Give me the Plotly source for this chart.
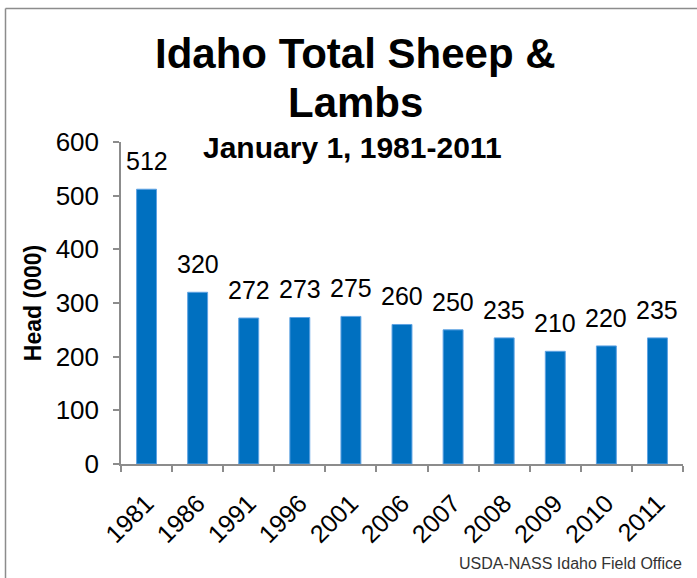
import plotly.graph_objects as go

years = ["1981", "1986", "1991", "1996", "2001", "2006", "2007", "2008", "2009", "2010", "2011"]
head = [512, 320, 272, 273, 275, 260, 250, 235, 210, 220, 235]
y_ticks = [0, 100, 200, 300, 400, 500, 600]

W, H = 697, 578
ML, MR, MT, MB = 121, 14, 142, 114
PW, PH = W - ML - MR, H - MT - MB

def px_x(x):
    return (x - ML) / PW

def px_y(y):
    return (H - MB - y) / PH

FONT = "Liberation Sans, Arial, sans-serif"

fig = go.Figure()
fig.add_trace(go.Bar(
    x=years, y=head,
    marker=dict(color="#0070C0", line=dict(color="#5FA3E3", width=1)),
    width=0.39,
    hoverinfo="x+y",
))

annotations = []
for i, v in enumerate(head):
    annotations.append(dict(
        x=i, y=v, xref="x", yref="y", text=str(v), showarrow=False,
        yanchor="bottom", yshift=12, font=dict(family=FONT, size=25, color="#000000"),
    ))

annotations += [
    dict(x=px_x(355), y=px_y(54), xref="paper", yref="paper", text="<b>Idaho Total Sheep &</b>",
         showarrow=False, xanchor="center", yanchor="middle",
         font=dict(family=FONT, size=42, color="#000000")),
    dict(x=px_x(355), y=px_y(103), xref="paper", yref="paper", text="<b>Lambs</b>",
         showarrow=False, xanchor="center", yanchor="middle",
         font=dict(family=FONT, size=42, color="#000000")),
    dict(x=px_x(352), y=px_y(147), xref="paper", yref="paper", text="<b>January 1, 1981-2011</b>",
         showarrow=False, xanchor="center", yanchor="middle",
         font=dict(family=FONT, size=30, color="#000000")),
    dict(x=px_x(684), y=px_y(563), xref="paper", yref="paper", text="USDA-NASS Idaho Field Office",
         showarrow=False, xanchor="right", yanchor="middle",
         font=dict(family=FONT, size=16, color="#333333")),
]

shapes = [
    dict(type="line", xref="paper", yref="paper", x0=px_x(5.5), x1=px_x(5.5), y0=px_y(8.5), y1=px_y(600),
         line=dict(color="#8C8C8C", width=1.5)),
    dict(type="line", xref="paper", yref="paper", x0=px_x(5.5), x1=px_x(720), y0=px_y(8.5), y1=px_y(8.5),
         line=dict(color="#8C8C8C", width=1.5)),
]

fig.update_layout(
    width=W, height=H,
    margin=dict(l=ML, r=MR, t=MT, b=MB),
    paper_bgcolor="white", plot_bgcolor="white",
    showlegend=False,
    annotations=annotations,
    shapes=shapes,
    xaxis=dict(
        type="category", range=[-0.5, len(years) - 0.5], automargin=False,
        showline=True, linecolor="#8C8C8C", linewidth=1.5,
        ticks="outside", ticklen=6, tickcolor="#8C8C8C", tickwidth=1.5,
        tickson="boundaries", tickangle=-45, ticklabelstandoff=13,
        tickfont=dict(family=FONT, size=25, color="#000000"),
        showgrid=False, zeroline=False,
    ),
    yaxis=dict(
        range=[0, 600], tickvals=y_ticks, automargin=False,
        showline=True, linecolor="#8C8C8C", linewidth=1.5,
        ticks="outside", ticklen=6, tickcolor="#8C8C8C", tickwidth=1.5,
        ticklabelstandoff=9,
        tickfont=dict(family=FONT, size=26, color="#000000"),
        showgrid=False, zeroline=False,
        title=dict(text="<b>Head (000)</b>", font=dict(family=FONT, size=23, color="#000000"), standoff=8),
    ),
)

fig.write_html("out.html", config={"displayModeBar": False},
               post_script="document.body.style.margin='0';document.body.style.overflow='hidden';")
